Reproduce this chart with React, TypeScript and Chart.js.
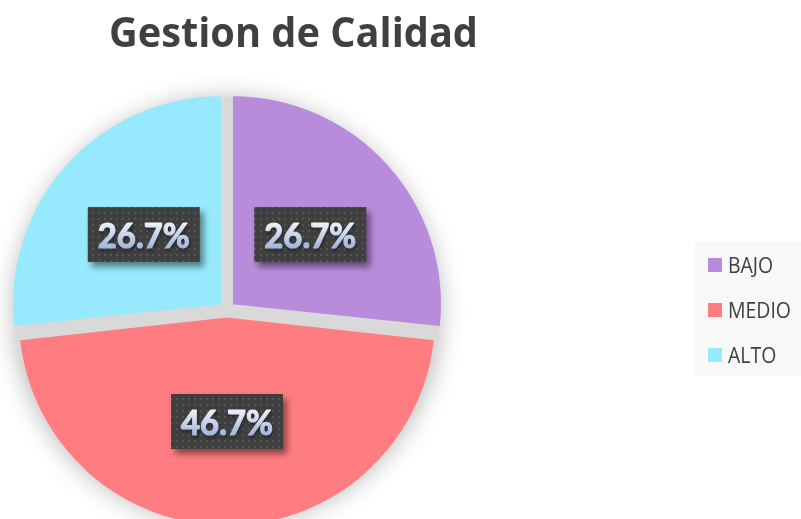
import React, { useEffect, useRef } from "react";
import { Chart, registerables } from "chart.js";

Chart.register(...registerables);

const TITLE = "Gestion de Calidad";
const categories = ["BAJO", "MEDIO", "ALTO"];
const values = [4, 7, 4];
const colors = ["#B98BDB", "#FF7C80", "#97E9FD"];

const EXPLODE = 32; // Chart.js arc offset (translates by offset / 4)

function makePattern(ctx: CanvasRenderingContext2D) {
  const c = document.createElement("canvas");
  c.width = 6;
  c.height = 6;
  const p = c.getContext("2d")!;
  p.fillStyle = "#3f3f3f";
  p.fillRect(0, 0, 6, 6);
  p.fillStyle = "#545454";
  p.fillRect(2, 2, 2, 2);
  return ctx.createPattern(c, "repeat")!;
}

const shadowDisc = {
  id: "shadowDisc",
  beforeDatasetsDraw(chart: any) {
    const meta = chart.getDatasetMeta(0);
    const R = meta.controller.outerRadius;
    // keep every exploded slice at the same radius
    meta.data.forEach((arc: any) => {
      const circ = arc.circumference;
      const fix = 1 - Math.sin(Math.min(Math.PI, circ || 0));
      arc.outerRadius = R - (EXPLODE / 4) * fix;
    });
    const arc = meta.data[0];
    if (!arc) return;
    const { x, y } = arc;
    const ctx = chart.ctx as CanvasRenderingContext2D;
    ctx.save();
    ctx.beginPath();
    ctx.arc(x, y + 2, R + 4, 0, Math.PI * 2);
    ctx.fillStyle = "#d9d9d9";
    ctx.shadowColor = "rgba(0,0,0,0.3)";
    ctx.shadowBlur = 26;
    ctx.fill();
    ctx.restore();
  },
};

const labelsPlugin = {
  id: "boxLabels",
  afterDatasetsDraw(chart: any) {
    const ctx = chart.ctx as CanvasRenderingContext2D;
    const meta = chart.getDatasetMeta(0);
    const R = meta.controller.outerRadius;
    const total = values.reduce((a, b) => a + b, 0);
    const pattern = makePattern(ctx);
    meta.data.forEach((arc: any, i: number) => {
      const { x, y, startAngle, endAngle } = arc;
      const mid = (startAngle + endAngle) / 2;
      const d = R / 2 + EXPLODE / 4;
      const cx = x + Math.cos(mid) * d;
      const cy = y + Math.sin(mid) * d;
      const txt = ((values[i] / total) * 100).toFixed(1) + "%";
      const w = 112;
      const h = 55;
      ctx.save();
      ctx.shadowColor = "rgba(0,0,0,0.45)";
      ctx.shadowOffsetX = 4;
      ctx.shadowOffsetY = 5;
      ctx.shadowBlur = 6;
      ctx.fillStyle = pattern;
      ctx.fillRect(cx - w / 2, cy - h / 2, w, h);
      ctx.restore();

      ctx.save();
      ctx.font = "bold 35px Lato";
      const mw = ctx.measureText(txt).width;
      const sx = 92 / mw;
      ctx.translate(cx, cy);
      ctx.scale(sx, 1);
      const g = ctx.createLinearGradient(0, -12, 0, 13);
      g.addColorStop(0, "#eef2fa");
      g.addColorStop(1, "#a2b7dc");
      ctx.fillStyle = g;
      ctx.strokeStyle = g;
      ctx.lineWidth = 1.2;
      ctx.lineJoin = "round";
      ctx.textAlign = "center";
      ctx.textBaseline = "alphabetic";
      ctx.shadowColor = "rgba(0,0,0,0.75)";
      ctx.shadowOffsetX = 1;
      ctx.shadowOffsetY = 2;
      ctx.shadowBlur = 3;
      ctx.strokeText(txt, 0, 13.5);
      ctx.shadowColor = "transparent";
      ctx.fillText(txt, 0, 13.5);
      ctx.restore();
    });
  },
};

const decorPlugin = {
  id: "decor",
  afterDraw(chart: any) {
    const ctx = chart.ctx as CanvasRenderingContext2D;
    // Title
    ctx.save();
    ctx.font = "bold 42px 'Open Sans'";
    const tw = ctx.measureText(TITLE).width;
    ctx.translate(293.5, 47);
    ctx.scale(369 / tw, 1);
    ctx.fillStyle = "#404040";
    ctx.textAlign = "center";
    ctx.textBaseline = "alphabetic";
    ctx.fillText(TITLE, 0, 0);
    ctx.restore();

    // Legend
    ctx.save();
    ctx.fillStyle = "#f8f8f8";
    ctx.fillRect(695, 242, 106, 134);
    ctx.font = "21px 'Open Sans'";
    const ref = ctx.measureText("MEDIO").width;
    const f = 63 / ref;
    const ds = chart.data.datasets[0];
    (chart.data.labels as string[]).forEach((lab, i) => {
      const cy = 265 + i * 45;
      ctx.fillStyle = ds.backgroundColor[i];
      ctx.fillRect(708, cy - 7, 14, 14);
      ctx.save();
      ctx.translate(728, cy + 7.5);
      ctx.scale(f, 1);
      ctx.fillStyle = "#404040";
      ctx.textAlign = "left";
      ctx.textBaseline = "alphabetic";
      ctx.fillText(lab, 0, 0);
      ctx.restore();
    });
    ctx.restore();
  },
};

export default function App() {
  const ref = useRef<HTMLCanvasElement | null>(null);
  useEffect(() => {
    document.body.style.margin = "0";
    const canvas = ref.current;
    if (!canvas) return;
    const chart = new Chart(canvas, {
      type: "pie",
      data: {
        labels: categories,
        datasets: [
          {
            data: values,
            backgroundColor: colors,
            borderWidth: 0,
            offset: EXPLODE,
            radius: 208,
            clip: false,
          } as any,
        ],
      },
      options: {
        responsive: false,
        animation: false,
        events: [],
        layout: { padding: { left: 0, right: 347, top: 100, bottom: 0 } },
        plugins: {
          legend: { display: false },
          title: { display: false },
          tooltip: { enabled: false },
        },
      } as any,
      plugins: [shadowDisc, labelsPlugin, decorPlugin],
    });
    return () => chart.destroy();
  }, []);
  return (
    <div style={{ width: 801, height: 519, background: "#ffffff" }}>
      <canvas ref={ref} width={801} height={519} style={{ display: "block" }} />
    </div>
  );
}
